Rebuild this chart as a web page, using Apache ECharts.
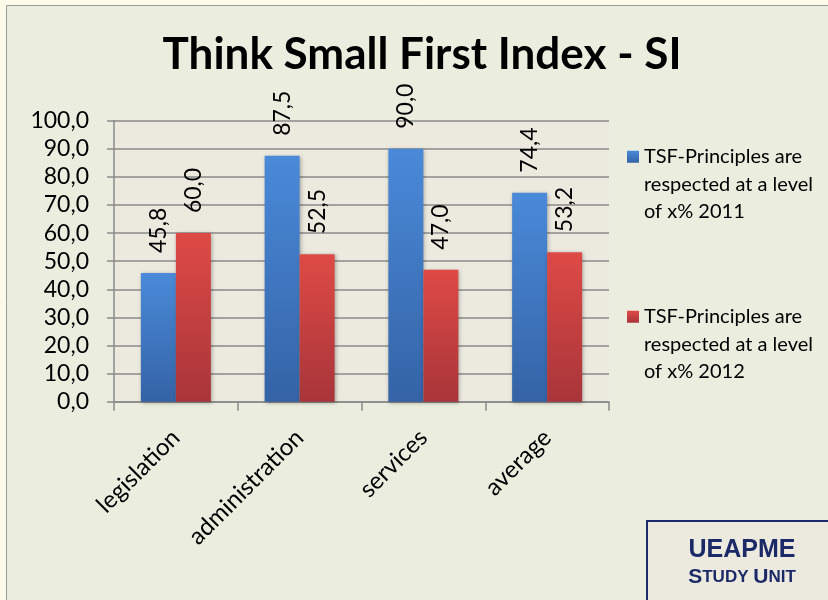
<!DOCTYPE html>
<html>
<head>
<meta charset="utf-8">
<script src="https://cdn.jsdelivr.net/npm/echarts@6/dist/echarts.min.js"></script>
<style>
html,body{margin:0;padding:0;background:#fbfbe8;}
#c{width:828px;height:600px;}
</style>
</head>
<body>
<div id="c"></div>
<script>
var titleText = 'Think Small First Index - SI';
var categories = ['legislation', 'administration', 'services', 'average'];
var series2011 = [45.8, 87.5, 90.0, 74.4];
var series2012 = [60.0, 52.5, 47.0, 53.2];
var seriesNames = ['TSF-Principles are respected at a level of x% 2011', 'TSF-Principles are respected at a level of x% 2012'];
var legendLines = {};
legendLines[seriesNames[0]] = 'TSF-Principles are\nrespected at a level\nof x% 2011';
legendLines[seriesNames[1]] = 'TSF-Principles are\nrespected at a level\nof x% 2012';
var yMin = 0, yMax = 100, yStep = 10;

var FONT = 'Lato, "Open Sans", sans-serif';
function fmt(v) { return Number(v).toFixed(1).replace('.', ','); }

var chart = echarts.init(document.getElementById('c'), null, {renderer: 'canvas'});

var blueGrad = new echarts.graphic.LinearGradient(0, 0, 0, 1, [
  {offset: 0, color: '#4a8ad9'}, {offset: 1, color: '#3463a6'}]);
var redGrad = new echarts.graphic.LinearGradient(0, 0, 0, 1, [
  {offset: 0, color: '#de4a45'}, {offset: 1, color: '#a8353a'}]);

function barLabel() {
  return {
    show: true, position: 'top', rotate: 90, distance: 15,
    align: 'left', verticalAlign: 'middle', offset: [5, 0],
    color: '#000', fontFamily: FONT, fontSize: 23,
    formatter: function (p) { return fmt(p.value); }
  };
}

chart.setOption({
  backgroundColor: 'transparent',
  animation: false,
  graphic: [
    {type: 'rect', left: 6, top: 5, z: -10, silent: true,
     shape: {x: 0, y: 0, width: 840, height: 610},
     style: {fill: '#ebeedf', stroke: '#9a9a9a', lineWidth: 1}},
    {type: 'rect', z: 10, silent: true,
     shape: {x: 647, y: 521, width: 200, height: 100},
     style: {fill: '#ece9df', stroke: '#1c2b6b', lineWidth: 2}},
    {type: 'text', z: 11, silent: true, x: 742, y: 536,
     style: {
       text: '{a|UEAPME}\n{b|S}{c|TUDY }{b|U}{c|NIT}',
       align: 'center', verticalAlign: 'top',
       rich: {
         a: {fontFamily: '"Liberation Sans", Arial, sans-serif', fontWeight: 'bold', fontSize: 25, fill: '#1b2a66', lineHeight: 28, align: 'center'},
         b: {fontFamily: '"Liberation Sans", Arial, sans-serif', fontWeight: 'bold', fontSize: 21, fill: '#1b2a66', lineHeight: 26},
         c: {fontFamily: '"Liberation Sans", Arial, sans-serif', fontWeight: 'bold', fontSize: 17, fill: '#1b2a66', lineHeight: 26}
       }
     }}
  ],
  title: {
    text: titleText, left: 422, top: 33, textAlign: 'center', padding: 0,
    textStyle: {fontFamily: FONT, fontWeight: 'bold', fontSize: 44, color: '#000'}
  },
  legend: {
    orient: 'vertical', left: 627, top: 88, padding: 0,
    itemWidth: 12, itemHeight: 12, itemGap: 22.5,
    icon: 'rect',
    data: seriesNames,
    formatter: function (n) { return '\n\n' + legendLines[n]; },
    textStyle: {fontFamily: FONT, fontSize: 20, color: '#000', lineHeight: 27.5}
  },
  grid: {left: 114, right: 219, top: 120.7, bottom: 198.3, show: true,
         backgroundColor: '#ece9df', borderWidth: 0},
  xAxis: {
    type: 'category', data: categories,
    axisLine: {show: true, lineStyle: {color: '#8a8a8a', width: 1.5}},
    axisTick: {show: true, length: 9, inside: false, alignWithLabel: false, lineStyle: {color: '#8a8a8a', width: 1.5}},
    axisLabel: {rotate: 45, margin: 32, fontFamily: FONT, fontSize: 24, color: '#000'}
  },
  yAxis: {
    type: 'value', min: yMin, max: yMax, interval: yStep,
    axisLine: {show: true, lineStyle: {color: '#8a8a8a', width: 1.5}},
    axisTick: {show: true, length: 7, lineStyle: {color: '#8a8a8a', width: 1.5}},
    splitLine: {show: true, lineStyle: {color: '#8a8a8a', width: 1.5}},
    axisLabel: {margin: 25, fontFamily: FONT, fontSize: 23, color: '#000', formatter: fmt}
  },
  series: [
    {name: seriesNames[0], type: 'bar', data: series2011, barWidth: 35, barGap: '0%',
     itemStyle: {color: blueGrad, shadowBlur: 4, shadowColor: 'rgba(0,0,0,0.3)', shadowOffsetX: 1, shadowOffsetY: 1},
     label: barLabel()},
    {name: seriesNames[1], type: 'bar', data: series2012, barWidth: 35, barGap: '0%',
     itemStyle: {color: redGrad, shadowBlur: 4, shadowColor: 'rgba(0,0,0,0.3)', shadowOffsetX: 1, shadowOffsetY: 1},
     label: barLabel()}
  ]
});
</script>
</body>
</html>
